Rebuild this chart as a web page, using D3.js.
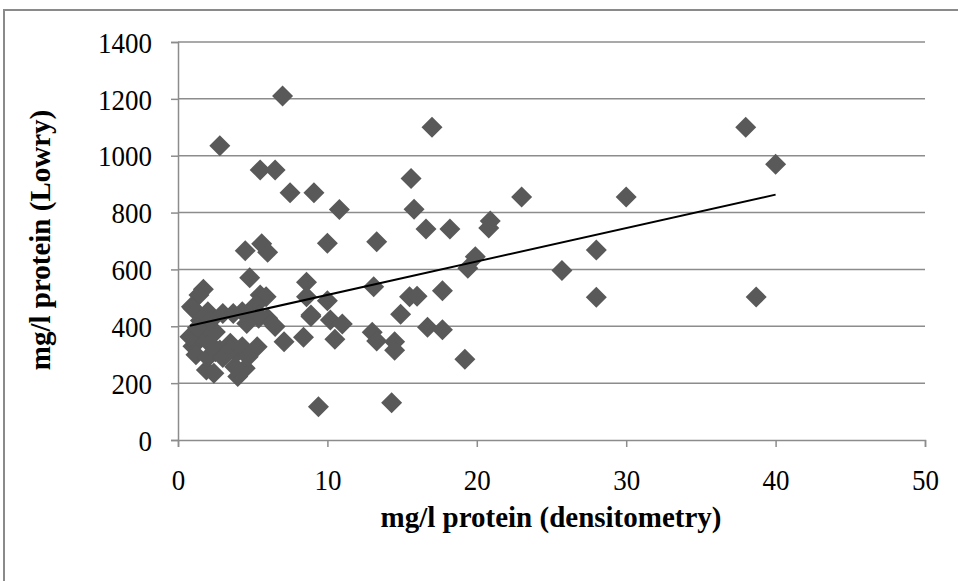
<!DOCTYPE html>
<html>
<head>
<meta charset="utf-8">
<script src="https://cdn.jsdelivr.net/npm/d3@7"></script>
<style>
  body { margin: 0; background: #fff; }
  text { font-family: "Liberation Serif", "Times New Roman", serif; }
</style>
</head>
<body>
<div id="chart"></div>
<script>
// values
var densitometry = [
  7.0, 2.8, 17.0, 38.0, 40.0, 38.7,
  5.5, 6.5, 7.5, 9.1, 10.8, 15.6, 15.8, 16.6, 18.2, 20.9, 20.8,
  23.0, 30.0, 25.7, 28.0, 28.0, 19.9, 19.4,
  10.0, 13.3, 4.5, 5.6, 6.0,
  4.8, 8.6, 8.6, 10.0, 13.1, 15.5, 16.0, 17.7,
  8.9, 10.2, 11.0, 8.4, 10.5, 13.0, 13.3, 14.5, 14.5, 14.9, 16.7, 17.7, 19.2,
  9.4, 14.3,
  7.1, 6.5, 5.4, 6.0, 5.5, 5.9, 4.6, 4.3, 5.2, 8.9, 5.4,
  1.7, 1.4, 0.9, 1.0, 2.0, 3.0, 3.7, 1.5,
  1.0, 1.5, 2.1, 2.8, 3.5, 3.9, 4.6, 5.3, 1.9, 2.4, 4.0, 4.5, 0.8,
  1.2, 2.0, 2.5, 3.0, 3.5, 2.5, 1.8, 2.2, 3.2, 4.2, 1.3, 4.3, 4.7, 3.8
]
var lowry = [
  1210, 1035, 1100, 1100, 970, 503,
  950, 950, 870, 870, 811, 920, 812, 742, 742, 770, 746,
  855, 855, 596, 668, 502, 645, 604,
  692, 697, 666, 690, 660,
  571, 555, 504, 490, 539, 504, 506, 525,
  434, 422, 408, 361, 354, 379, 348, 346, 316, 442, 397, 388, 284,
  117, 131,
  346, 399, 428, 428, 510, 504, 410, 451, 475, 440, 440,
  530, 510, 469, 463, 451, 445, 445, 420,
  330, 363, 340, 317, 340, 305, 299, 328, 246, 235, 223, 252, 363,
  300, 290, 310, 290, 320, 380, 400, 420, 300, 320, 395, 328, 293, 258
]
var xTicks = [0, 10, 20, 30, 40, 50]
var yTicks = [0, 200, 400, 600, 800, 1000, 1200, 1400]
// linear trendline as shown in the chart
var trendSlope = 11.76
var trendIntercept = 392.7
var xTitle = "mg/l protein (densitometry)"
var yTitle = "mg/l protein (Lowry)"

var points = densitometry.map(function(d, i){
    return { x: d, y: lowry[i] }
})

var width = 958, height = 581
var margin = { top: 42, right: 33, bottom: 141, left: 178 }
var innerW = width - margin.left - margin.right
var innerH = height - margin.top - margin.bottom
var stretch = 1.12 // tick digits look a bit taller than plain Times

var svg = d3.select("#chart").append("svg")
    .attr("width", width)
    .attr("height", height)

// outer chart border (only top and left visible)
svg.append("rect")
    .attr("x", 4).attr("y", 10)
    .attr("width", width).attr("height", height)
    .attr("fill", "none")
    .attr("stroke", "#8a8a8a")
    .attr("stroke-width", 2)

var x = d3.scaleLinear().domain([0, 50]).range([margin.left, margin.left + innerW])
var y = d3.scaleLinear().domain([0, 1400]).range([margin.top + innerH, margin.top])

// gridlines
svg.append("g").selectAll("line")
    .data(yTicks.slice(1)).enter()
    .append("line")
    .attr("x1", x(0)).attr("x2", x(50))
    .attr("y1", function(d){ return y(d) })
    .attr("y2", function(d){ return y(d) })
    .attr("stroke", "#8c8c8c")
    .attr("stroke-width", 1.5)

var xAxis = svg.append("g")
    .attr("transform", "translate(0," + y(0) + ")")
    .call(d3.axisBottom(x).tickValues(xTicks).tickSize(7).tickPadding(22).tickFormat(d3.format("d")))
var yAxis = svg.append("g")
    .attr("transform", "translate(" + x(0) + ",0)")
    .call(d3.axisLeft(y).tickValues(yTicks).tickSize(7).tickPadding(19).tickFormat(d3.format("d")))

;[xAxis, yAxis].forEach(function(ax){
    ax.select(".domain").attr("stroke", "#8c8c8c").attr("stroke-width", 1.5)
    ax.selectAll(".tick line").attr("stroke", "#8c8c8c").attr("stroke-width", 1.5)
    ax.selectAll(".tick text")
        .attr("fill", "#000")
        .style("font-family", "'Liberation Serif', serif")
        .style("font-size", "27px")
})
yAxis.selectAll(".tick text").attr("dy", "0.34em")
    .attr("transform", "scale(1," + stretch + ")")
xAxis.selectAll(".tick text").each(function(){
    var t = d3.select(this)
    var ty = +t.attr("y")
    t.attr("y", 0).attr("transform", "translate(0," + ty + ") scale(1," + stretch + ")")
})

// diamonds
svg.append("g").selectAll("path")
    .data(points).enter()
    .append("path")
    .attr("d", "M0,-10.5L10.5,0L0,10.5L-10.5,0Z")
    .attr("transform", function(d){
        return "translate(" + x(d.x) + "," + y(d.y) + ")"
    })
    .attr("fill", "#595959")

// trendline from min to max x
var xExt = d3.extent(densitometry)
svg.append("line")
    .attr("x1", x(xExt[0])).attr("y1", y(trendSlope * xExt[0] + trendIntercept))
    .attr("x2", x(xExt[1])).attr("y2", y(trendSlope * xExt[1] + trendIntercept))
    .attr("stroke", "#000")
    .attr("stroke-width", 2)

svg.append("text")
    .attr("x", 551).attr("y", 527)
    .attr("text-anchor", "middle")
    .style("font-size", "29px")
    .style("font-weight", "bold")
    .text(xTitle)

svg.append("text")
    .attr("transform", "translate(50,240) rotate(-90)")
    .attr("text-anchor", "middle")
    .style("font-size", "29px")
    .style("font-weight", "bold")
    .text(yTitle)
</script>
</body>
</html>
